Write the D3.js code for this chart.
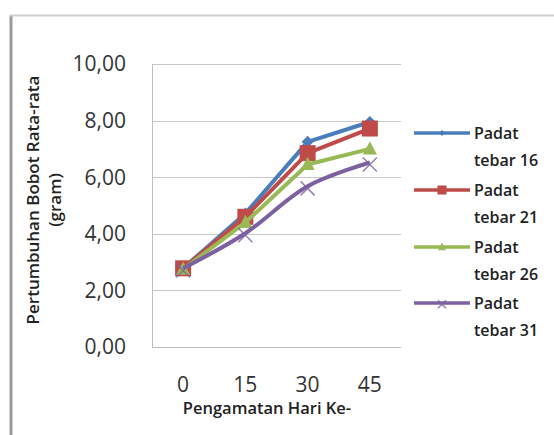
<!DOCTYPE html>
<html><head><meta charset="utf-8">
<script src="https://cdn.jsdelivr.net/npm/d3@7/dist/d3.min.js"></script>
<style>body{margin:0;background:#fff}svg{display:block}</style>
</head><body><svg id="c" width="554" height="435"></svg>
<script>
const categories = ["0","15","30","45"];
const yTicks = [0,2,4,6,8,10];
const seriesNames = ["Padat tebar 16","Padat tebar 21","Padat tebar 26","Padat tebar 31"];
const s16 = [2.78, 4.72, 7.25, 7.95];
const s21 = [2.78, 4.6, 6.85, 7.72];
const s26 = [2.75, 4.4, 6.45, 7.0];
const s31 = [2.78, 4.02, 5.68, 6.52];
const colors = ["#4a7ebb","#be4b48","#98b954","#7d60a0"];
const markers = ["diamond","square","triangle","x"];

const svg = d3.select("#c");
const font = "'Open Sans', sans-serif";
// outer frame
svg.append("line").attr("x1",11).attr("x2",11).attr("y1",15).attr("y2",435).attr("stroke","#9a9a9a").attr("stroke-width",3);
svg.append("line").attr("x1",10).attr("x2",554).attr("y1",15.5).attr("y2",15.5).attr("stroke","#cfcfcf").attr("stroke-width",2);

const L=152,R=401,T=64,B=347;
const x = d3.scaleBand().domain(categories).range([L,R]);
const y = d3.scaleLinear().domain([0,10]).range([B,T]);

// gridlines
svg.append("g").selectAll("line").data(yTicks.filter(d=>d>0)).join("line")
  .attr("x1",L).attr("x2",R).attr("y1",d=>Math.round(y(d))+0.5).attr("y2",d=>Math.round(y(d))+0.5)
  .attr("stroke","#c8c8c8").attr("stroke-width",1);
// axes lines
svg.append("line").attr("x1",L+0.5).attr("x2",L+0.5).attr("y1",T).attr("y2",B).attr("stroke","#bdbdbd");
svg.append("line").attr("x1",L).attr("x2",R).attr("y1",B+0.5).attr("y2",B+0.5).attr("stroke","#bdbdbd");

// y tick labels
const fmt = d=>d3.format(".2f")(d).replace(".",",");
svg.append("g").selectAll("text").data(yTicks).join("text")
  .attr("x",126).attr("y",d=>y(d)).attr("dy","0.35em").attr("text-anchor","end")
  .attr("font-family",font).attr("font-size",21).attr("fill","#333").text(fmt);
// x tick labels
svg.append("g").selectAll("text").data(categories).join("text")
  .attr("x",d=>x(d)+x.bandwidth()/2).attr("y",385).attr("dy","0.35em").attr("text-anchor","middle")
  .attr("font-family",font).attr("font-size",21).attr("fill","#333").text(d=>d);
// axis titles
svg.append("text").attr("x",267).attr("y",414).attr("text-anchor","middle")
  .attr("font-family",font).attr("font-size",16.5).attr("font-weight",600).attr("fill","#222").text("Pengamatan Hari Ke-");
const yt = svg.append("text").attr("transform","translate(39,200) rotate(-90)").attr("text-anchor","middle")
  .attr("font-family",font).attr("font-size",17).attr("font-weight",600).attr("fill","#222");
yt.append("tspan").attr("x",0).attr("y",0).text("Pertumbuhan Bobot Rata-rata");
yt.append("tspan").attr("x",0).attr("y",22).text("(gram)");

const data = [s16,s21,s26,s31];
function drawMarker(g, type, cx, cy, color, s){
  if(type==="diamond"){
    g.append("path").attr("d",`M${cx},${cy-s}L${cx+s},${cy}L${cx},${cy+s}L${cx-s},${cy}Z`).attr("fill",color);
  } else if(type==="square"){
    g.append("rect").attr("x",cx-s).attr("y",cy-s).attr("width",2*s).attr("height",2*s).attr("fill",color);
  } else if(type==="triangle"){
    g.append("path").attr("d",`M${cx},${cy-s*1.1}L${cx+s},${cy+s*0.8}L${cx-s},${cy+s*0.8}Z`).attr("fill",color);
  } else {
    g.append("path").attr("d",`M${cx-s},${cy-s*0.7}L${cx+s},${cy+s*1.3}M${cx+s},${cy-s*0.7}L${cx-s},${cy+s*1.3}`)
      .attr("stroke",color).attr("stroke-width",1.5).attr("fill","none").attr("opacity",0.8);
  }
}
const sizes = [6,8,7,7];
data.forEach((vals,i)=>{
  const g = svg.append("g");
  const line = d3.line().x((d,j)=>x(categories[j])+x.bandwidth()/2).y(d=>y(d))
    .curve(i===3 ? d3.curveCatmullRom.alpha(0.5) : d3.curveLinear);
  g.append("path").attr("d",line(vals)).attr("fill","none").attr("stroke",colors[i]).attr("stroke-width",4).attr("stroke-linejoin","round");
  vals.forEach((v,j)=>drawMarker(g,markers[i],x(categories[j])+x.bandwidth()/2,y(v),colors[i],sizes[i]));
});

// legend
const ly = [133,190,247,303];
seriesNames.forEach((n,i)=>{
  const g = svg.append("g");
  g.append("line").attr("x1",414).attr("x2",470).attr("y1",ly[i]).attr("y2",ly[i]).attr("stroke",colors[i]).attr("stroke-width",3.5);
  drawMarker(g,markers[i],442,ly[i],colors[i],[3,4.5,4,4][i]);
  const parts = n.split(" ");
  g.append("text").attr("x",474).attr("y",ly[i]+6).attr("font-family",font).attr("font-size",16).attr("font-weight",600).attr("fill","#222").text(parts[0]);
  g.append("text").attr("x",474).attr("y",ly[i]+33).attr("font-family",font).attr("font-size",16).attr("font-weight",600).attr("fill","#222").text(parts[1]+" "+parts[2]);
});
</script></body></html>
